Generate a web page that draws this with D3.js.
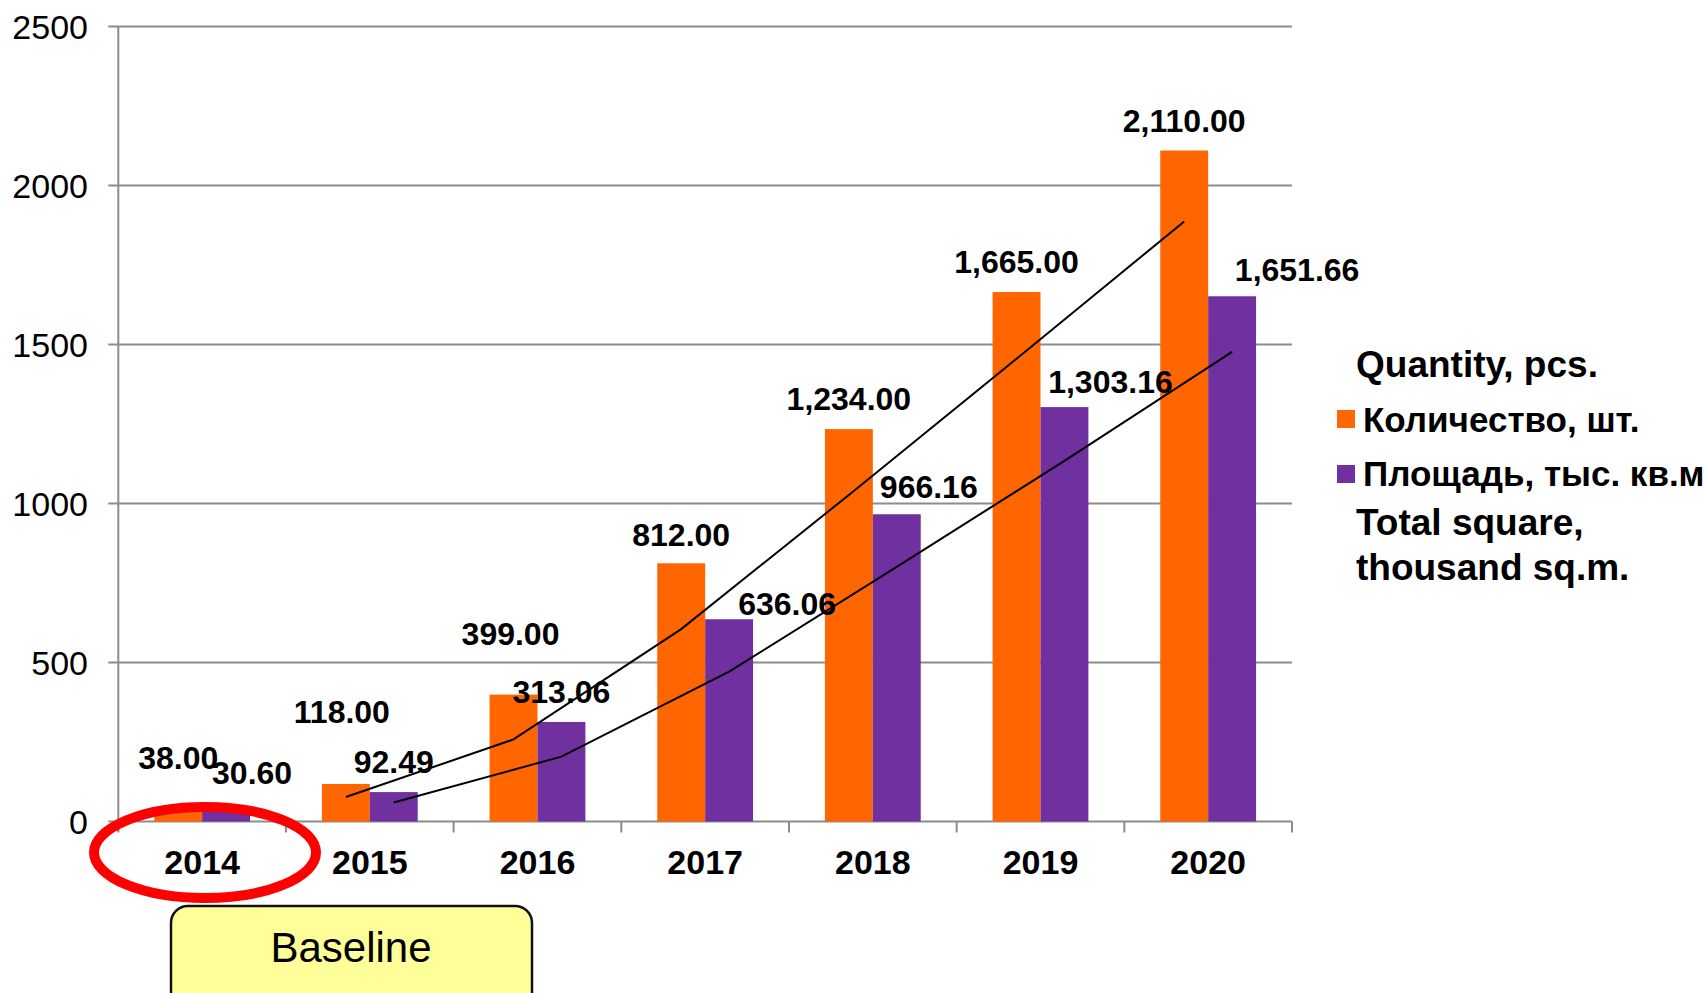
<!DOCTYPE html>
<html>
<head>
<meta charset="utf-8">
<script src="https://cdn.jsdelivr.net/npm/d3@7"></script>
<style>
  body { margin: 0; background: #fff; }
  text { font-family: "Liberation Sans", Arial, sans-serif; }
</style>
</head>
<body>
<svg id="chart" width="1704" height="993"></svg>
<script>
// data
var years = ["2014", "2015", "2016", "2017", "2018", "2019", "2020"];
var quantity = [38.00, 118.00, 399.00, 812.00, 1234.00, 1665.00, 2110.00];
var area = [30.60, 92.49, 313.06, 636.06, 966.16, 1303.16, 1651.66];
// trendlines as drawn (2015..2020)
var trendYears = ["2015", "2016", "2017", "2018", "2019", "2020"];
var quantityTrend = [77, 258, 605, 1027, 1455, 1887];
var areaTrend = [60, 204, 471, 801, 1134, 1477];
var yTicks = [0, 500, 1000, 1500, 2000, 2500];
var seriesNames = ["Количество, шт.", "Площадь, тыс. кв.м"];
var colors = ["#FF6600", "#7030A0"];

// manual nudges of the data labels (px, relative to the bar top centre)
var qtyNudge = [[0, -40], [-4, -61], [-3, -50], [0, -17], [0, -19], [0, -19], [0, -19]];
var areaNudge = [[26, -28], [0, -19], [0, -19], [58, -4], [32, -16], [46, -14], [65, -15]];

var svg = d3.select("#chart");
var plotL = 118.3, plotR = 1292, plotT = 26.5, plotB = 821.5;

var x = d3.scaleBand().domain(years).range([plotL, plotR]).padding(0);
var x1 = d3.scaleBand().domain([0, 1]).range([0, x.bandwidth()]).paddingInner(0).paddingOuter(0.75);
var y = d3.scaleLinear().domain([0, 2500]).range([plotB, plotT]);

var fmt = d3.format(",.2f");

// gridlines + y ticks
svg.append("g").selectAll("line")
    .data(yTicks)
    .enter().append("line")
    .attr("x1", plotL - 10).attr("x2", plotR)
    .attr("y1", d => y(d)).attr("y2", d => y(d))
    .style("stroke", "#8c8c8c").style("stroke-width", 2);

svg.append("g").selectAll("text")
    .data(yTicks)
    .enter().append("text")
    .attr("x", 88).attr("y", d => y(d))
    .attr("dy", "0.36em")
    .attr("text-anchor", "end")
    .style("font-size", "34px")
    .text(d => d);

// y axis line
svg.append("line")
    .attr("x1", plotL).attr("x2", plotL)
    .attr("y1", plotT).attr("y2", plotB + 10)
    .style("stroke", "#8c8c8c").style("stroke-width", 2);

// x category ticks
svg.append("g").selectAll("line")
    .data(years.concat(["end"]))
    .enter().append("line")
    .attr("x1", d => d === "end" ? plotR : x(d))
    .attr("x2", d => d === "end" ? plotR : x(d))
    .attr("y1", plotB).attr("y2", plotB + 11)
    .style("stroke", "#8c8c8c").style("stroke-width", 2);

// bars
var series = [quantity, area];
series.forEach(function(vals, s) {
    svg.append("g").selectAll("rect")
        .data(vals)
        .enter().append("rect")
        .attr("x", (d, i) => x(years[i]) + x1(s))
        .attr("width", x1.bandwidth())
        .attr("y", d => y(d))
        .attr("height", d => plotB - y(d))
        .style("fill", colors[s]);
});

// trendlines
var line = d3.line().x(d => d[0]).y(d => y(d[1]));
[quantityTrend, areaTrend].forEach(function(vals, s) {
    var pts = vals.map((v, i) => [x(trendYears[i]) + x1(s) + x1.bandwidth() / 2, v]);
    svg.append("path")
        .attr("d", line(pts))
        .style("fill", "none")
        .style("stroke", "#000")
        .style("stroke-width", 2);
});

// data labels
[[quantity, qtyNudge], [area, areaNudge]].forEach(function(pair, s) {
    svg.append("g").selectAll("text")
        .data(pair[0])
        .enter().append("text")
        .attr("x", (d, i) => x(years[i]) + x1(s) + x1.bandwidth() / 2 + pair[1][i][0])
        .attr("y", (d, i) => y(d) + pair[1][i][1])
        .attr("text-anchor", "middle")
        .style("font-size", "32px")
        .style("font-weight", "bold")
        .text(d => fmt(d));
});

// year labels
svg.append("g").selectAll("text")
    .data(years)
    .enter().append("text")
    .attr("x", d => x(d) + x.bandwidth() / 2)
    .attr("y", 874)
    .attr("text-anchor", "middle")
    .style("font-size", "34px")
    .style("font-weight", "bold")
    .text(d => d);

// legend
var legend = svg.append("g");
legend.append("text").attr("x", 1356).attr("y", 377)
    .style("font-size", "37px").style("font-weight", "bold")
    .text("Quantity, pcs.");
seriesNames.forEach(function(name, i) {
    legend.append("rect")
        .attr("x", 1337).attr("y", 410 + i * 55)
        .attr("width", 18).attr("height", 18)
        .style("fill", colors[i]);
    legend.append("text")
        .attr("x", 1363).attr("y", 432 + i * 54)
        .style("font-size", "35px").style("font-weight", "bold")
        .text(name);
});
legend.append("text").attr("x", 1356).attr("y", 535)
    .style("font-size", "37px").style("font-weight", "bold")
    .text("Total square,");
legend.append("text").attr("x", 1356).attr("y", 580)
    .style("font-size", "37px").style("font-weight", "bold")
    .text("thousand sq.m.");

// baseline highlight
svg.append("ellipse")
    .attr("cx", 205).attr("cy", 852.5)
    .attr("rx", 111).attr("ry", 45.5)
    .style("fill", "none")
    .style("stroke", "#FF0000")
    .style("stroke-width", 10);

svg.append("rect")
    .attr("x", 171).attr("y", 906)
    .attr("width", 361).attr("height", 120)
    .attr("rx", 17)
    .style("fill", "#FFFF99")
    .style("stroke", "#111")
    .style("stroke-width", 2.5);

svg.append("text")
    .attr("x", 351).attr("y", 962)
    .attr("text-anchor", "middle")
    .style("font-size", "42px")
    .text("Baseline");
</script>
</body>
</html>
